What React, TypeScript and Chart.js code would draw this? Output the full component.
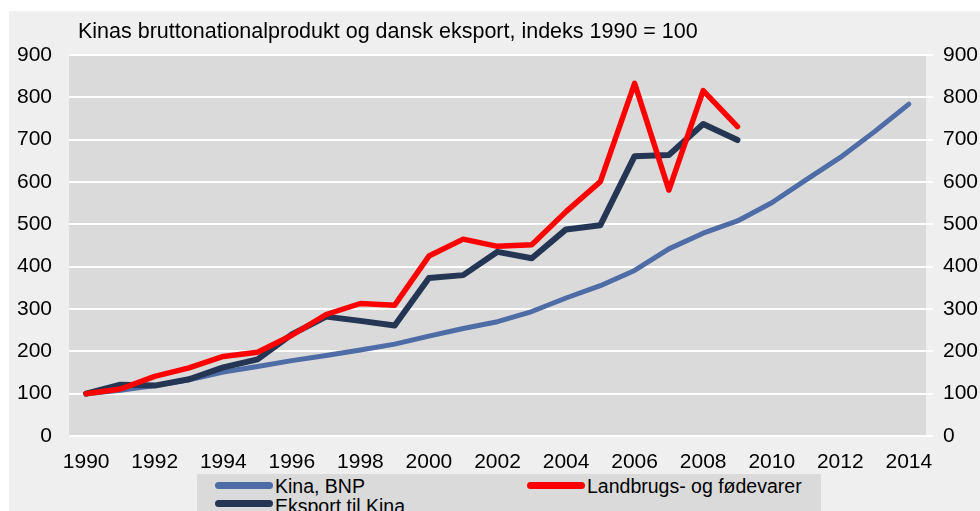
import React, { useEffect, useRef } from "react";
import { Chart, registerables } from "chart.js";

Chart.register(...registerables);

const TITLE = "Kinas bruttonationalprodukt og dansk eksport, indeks 1990 = 100";
const years = [
  "1990", "1991", "1992", "1993", "1994", "1995", "1996", "1997", "1998", "1999",
  "2000", "2001", "2002", "2003", "2004", "2005", "2006", "2007", "2008", "2009",
  "2010", "2011", "2012", "2013", "2014",
];
const kinaBNP = [100, 108, 119, 133, 151, 164, 178, 190, 203, 217, 236, 254, 270, 294, 326, 355, 391, 442, 479, 508, 551, 605, 658, 719, 784];
const landbrug = [100, 111, 141, 161, 188, 198, 238, 287, 313, 309, 425, 465, 448, 452, 530, 601, 833, 581, 816, 731];
const eksport = [100, 121, 119, 134, 162, 181, 240, 282, 272, 261, 373, 380, 435, 420, 488, 498, 661, 664, 737, 699];
const yTicks = [0, 100, 200, 300, 400, 500, 600, 700, 800, 900];

const LABEL_BNP = "Kina, BNP";
const LABEL_LAND = "Landbrugs- og fødevarer";
const LABEL_EKS = "Eksport til Kina";

const C_BNP = "#4e6ca5";
const C_LAND = "#ff0000";
const C_EKS = "#253654";
const FONT = '"Liberation Sans", Arial, sans-serif';

export default function App() {
  const ref = useRef<HTMLCanvasElement | null>(null);

  useEffect(() => {
    if (!ref.current) return;
    const bgPlugin = {
      id: "bg",
      beforeDraw(chart: any) {
        const { ctx, chartArea } = chart;
        ctx.save();
        ctx.fillStyle = "#ffffff";
        ctx.fillRect(0, 0, chart.width, chart.height);
        ctx.fillStyle = "#efefef";
        ctx.fillRect(9, 11, chart.width - 9, chart.height - 11);
        ctx.fillStyle = "#dadada";
        ctx.fillRect(chartArea.left, chartArea.top, chartArea.right - chartArea.left, chartArea.bottom - chartArea.top);
        ctx.restore();
      },
    };
    const chart = new Chart(ref.current, {
      type: "line",
      data: {
        labels: years,
        datasets: [
          { label: LABEL_BNP, data: kinaBNP, borderColor: C_BNP, borderWidth: 5, order: 3 },
          { label: LABEL_LAND, data: landbrug, borderColor: C_LAND, borderWidth: 5.5, order: 1 },
          { label: LABEL_EKS, data: eksport, borderColor: C_EKS, borderWidth: 6, order: 2 },
        ].map((d) => ({
          ...d,
          pointRadius: 0,
          pointHoverRadius: 0,
          tension: 0,
          fill: false,
          borderCapStyle: "round" as const,
          borderJoinStyle: "round" as const,
        })),
      },
      options: {
        responsive: false,
        animation: false,
        devicePixelRatio: 1,
        layout: { padding: { top: 55, left: 0, right: 0, bottom: 0 } },
        plugins: { legend: { display: false }, tooltip: { enabled: false }, title: { display: false } },
        scales: {
          x: {
            offset: true,
            grid: { display: false },
            border: { display: false },
            ticks: {
              autoSkip: false,
              maxRotation: 0,
              minRotation: 0,
              padding: 6,
              color: "#000",
              font: { family: FONT, size: 21 },
              callback: (v: any, i: number) => (i % 2 === 0 ? years[i] : ""),
            },
            afterFit: (s: any) => { s.height = 75; },
          },
          y: {
            position: "left",
            min: 0,
            max: 900,
            grid: { color: "#ffffff", lineWidth: 2, drawTicks: false },
            border: { display: false },
            ticks: {
              stepSize: 100,
              padding: 17,
              color: "#000",
              font: { family: FONT, size: 21 },
              callback: (v: any) => (yTicks.includes(v) ? String(v) : ""),
            },
            afterFit: (s: any) => { s.width = 69; },
          },
          y2: {
            position: "right",
            min: 0,
            max: 900,
            grid: { color: "#ffffff", lineWidth: 2, drawOnChartArea: false, drawTicks: true, tickLength: 7 },
            border: { display: false },
            ticks: {
              stepSize: 100,
              padding: 10,
              color: "#000",
              font: { family: FONT, size: 21 },
              callback: (v: any) => (yTicks.includes(v) ? String(v) : ""),
            },
            afterFit: (s: any) => { s.width = 54; },
          },
        },
      },
      plugins: [bgPlugin],
    } as any);
    return () => chart.destroy();
  }, []);

  const textStyle = (size: number): React.CSSProperties => ({
    position: "absolute",
    font: `${size}px ${FONT}`,
    lineHeight: `${size}px`,
    color: "#000",
    whiteSpace: "nowrap",
  });
  const sample = (left: number, top: number, color: string): React.CSSProperties => ({
    position: "absolute",
    left,
    top,
    width: 58,
    height: 7,
    borderRadius: 3.5,
    background: color,
  });

  return (
    <div style={{ position: "fixed", left: 0, top: 0, width: 980, height: 511, overflow: "hidden", background: "#fff" }}>
      <canvas ref={ref} width={980} height={511} style={{ position: "absolute", left: 0, top: 0 }} />
      <div style={{ ...textStyle(21.5), left: 78, top: 20.5 }}>{TITLE}</div>
      <div style={{ position: "absolute", left: 197, top: 474, width: 624, height: 40, background: "#dadada" }}>
        <div style={sample(18, 8, C_BNP)} />
        <div style={{ ...textStyle(19.5), left: 78, top: 2.5 }}>{LABEL_BNP}</div>
        <div style={sample(330, 8, C_LAND)} />
        <div style={{ ...textStyle(19.5), left: 390, top: 2.5 }}>{LABEL_LAND}</div>
        <div style={sample(18, 26, C_EKS)} />
        <div style={{ ...textStyle(19.5), left: 78, top: 22.5 }}>{LABEL_EKS}</div>
      </div>
    </div>
  );
}
